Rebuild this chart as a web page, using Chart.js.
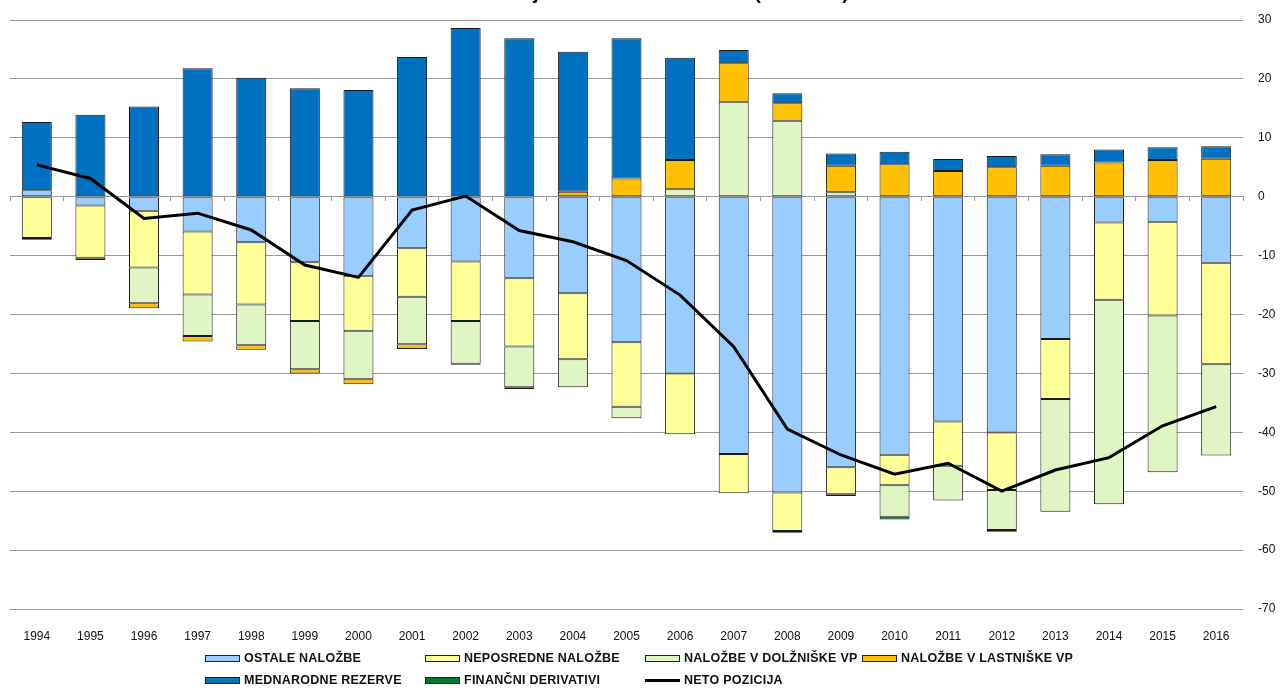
<!DOCTYPE html>
<html>
<head>
<meta charset="utf-8">
<script src="https://cdn.jsdelivr.net/npm/chart.js@4.4.1/dist/chart.umd.min.js"></script>
<style>
    html, body { margin: 0; padding: 0; background: #fff; overflow: hidden; }
    body { width: 1282px; height: 688px; position: relative; }
    #wrap { position: absolute; left: 0; top: -24px; width: 1282px; height: 664px; }
    #legend { position: absolute; left: 0; top: 0; width: 1282px; height: 688px; pointer-events: none; }
    .item { position: absolute; display: flex; align-items: center; white-space: nowrap;
            font-family: "Liberation Sans", Arial, sans-serif; font-weight: bold; font-size: 12.5px;
            letter-spacing: 0.25px; color: #111; }
    .box { width: 33px; height: 5px; border: 1px solid #222; margin-right: 4px; }
    .line { width: 35px; height: 3px; background: #000; margin-right: 4px; }
</style>
</head>
<body>
<div id="wrap"><canvas id="chart"></canvas></div>
<div id="legend"></div>
<script>
// DATA (v % BDP)
const years = ['1994','1995','1996','1997','1998','1999','2000','2001','2002','2003','2004','2005',
               '2006','2007','2008','2009','2010','2011','2012','2013','2014','2015','2016'];
const ostaleNalozbe = [1.1, -1.5, -2.4, -5.9, -7.75, -11.15, -13.4, -8.75, -11.0, -13.85, -16.4, -24.7,
                       -30.0, -43.7, -50.2, -45.95, -43.8, -38.15, -40.05, -24.15, -4.4, -4.25, -11.2];
const neposredneNalozbe = [-7.0, -8.85, -9.6, -10.7, -10.55, -9.95, -9.35, -8.25, -10.1, -11.6, -11.2, -10.95,
                           -10.35, -6.65, -6.55, -4.55, -5.2, -7.55, -9.75, -10.2, -13.1, -15.9, -17.25];
const dolzniskeVP = [null, null, -6.1, -7.05, -6.9, -8.2, -8.25, -8.05, -7.25, -6.9, -4.75, -1.95,
                     1.25, 16.1, 12.9, 0.75, -5.35, -5.9, -6.8, -19.15, -34.7, -26.65, -15.5];
const lastniskeVP = [-0.3, -0.4, -0.85, -0.95, -0.8, -0.7, -0.85, -0.8, -0.2, -0.3, 0.85, 3.1,
                     5.0, 6.55, 2.95, 4.5, 5.5, 4.35, 5.0, 5.25, 5.8, 6.25, 6.45];
const mednarodneRezerve = [11.6, 13.9, 15.3, 21.8, 20.2, 18.4, 18.1, 23.7, 28.65, 26.9, 23.75, 23.8,
                           17.35, 2.25, 1.7, 2.1, 2.15, 2.05, 1.9, 1.95, 2.2, 2.15, 2.1];
const financniDerivativi = [null, null, null, null, null, null, null, null, null, null, null, null,
                            null, null, -0.3, -0.3, -0.45, null, -0.3, null, null, null, null];
const netoPozicija = [5.4, 3.1, -3.7, -2.8, -5.65, -11.6, -13.7, -2.25, 0.1, -5.75, -7.65, -10.85,
                      -16.7, -25.45, -39.45, -43.85, -47.1, -45.25, -50.0, -46.4, -44.3, -38.9, -35.65];
const yTicks = [30, 20, 10, 0, -10, -20, -30, -40, -50, -60, -70];

const FONT = '"Liberation Sans", Arial, sans-serif';

const bar = (label, data, color) => ({
    type: 'bar', label, data,
    backgroundColor: color,
    borderColor: '#1a1a1a',
    borderWidth: 1,
    borderSkipped: false,
    barPercentage: 0.56,
    categoryPercentage: 1
});

const datasets = [
    bar('OSTALE NALOŽBE', ostaleNalozbe, '#99CCFF'),
    bar('NEPOSREDNE NALOŽBE', neposredneNalozbe, '#FFFF99'),
    bar('NALOŽBE V DOLŽNIŠKE VP', dolzniskeVP, '#DFF5C3'),
    bar('NALOŽBE V LASTNIŠKE VP', lastniskeVP, '#FFC000'),
    bar('MEDNARODNE REZERVE', mednarodneRezerve, '#0070C0'),
    bar('FINANČNI DERIVATIVI', financniDerivativi, '#007A33'),
    {
        type: 'line', label: 'NETO POZICIJA', data: netoPozicija,
        borderColor: '#000', backgroundColor: '#000', borderWidth: 3,
        pointRadius: 0, tension: 0, stack: 'neto', order: -1
    }
];

new Chart(document.getElementById('chart'), {
    data: { labels: years, datasets },
    options: {
        responsive: true,
        maintainAspectRatio: false,
        animation: false,
        layout: { padding: { left: 10, right: 0, top: 0, bottom: 0 } },
        plugins: {
            legend: { display: false },
            tooltip: { enabled: false },
            title: {
                display: true,
                text: 'Neto stanje mednarodnih naložb (v % BDP)',
                color: '#000',
                font: { family: FONT, size: 19.8, weight: 'bold' },
                padding: { top: 5.5, bottom: 14.74 }
            }
        },
        scales: {
            x: {
                stacked: true,
                offset: true,
                grid: { display: false },
                border: { display: false },
                ticks: { color: '#111', font: { family: FONT, size: 12 }, padding: 12, maxRotation: 0, autoSkip: false },
                afterFit: s => { s.height = 31; }
            },
            x2: {
                type: 'category',
                position: { y: 0 },
                offset: true,
                grid: { drawOnChartArea: false, drawTicks: true, tickLength: 4, color: '#999', offset: true },
                border: { display: true, color: '#999', width: 1 },
                ticks: { display: false }
            },
            y: {
                stacked: true,
                position: 'right',
                min: -70, max: 30,
                afterBuildTicks: s => { s.ticks = yTicks.map(v => ({ value: v })); },
                grid: { color: '#9a9a9a', drawTicks: false },
                border: { display: false },
                ticks: { color: '#111', font: { family: FONT, size: 12 }, padding: 15 },
                afterFit: s => { s.width = 39; }
            }
        }
    }
});

// HTML legend in the Excel-like grid
const legendCols = [205, 425, 645, 862];
const legendRows = [658, 680];
const legendEl = document.getElementById('legend');
datasets.forEach((ds, i) => {
    const item = document.createElement('div');
    item.className = 'item';
    const col = i < 4 ? i : i - 4;
    const row = i < 4 ? 0 : 1;
    item.style.left = legendCols[col] + 'px';
    item.style.top = (legendRows[row] - 8) + 'px';
    item.style.height = '16px';
    const sw = document.createElement('span');
    if (ds.type === 'line') {
        sw.className = 'line';
    } else {
        sw.className = 'box';
        sw.style.background = ds.backgroundColor;
    }
    const tx = document.createElement('span');
    tx.textContent = ds.label;
    item.appendChild(sw);
    item.appendChild(tx);
    legendEl.appendChild(item);
});
</script>
</body>
</html>
